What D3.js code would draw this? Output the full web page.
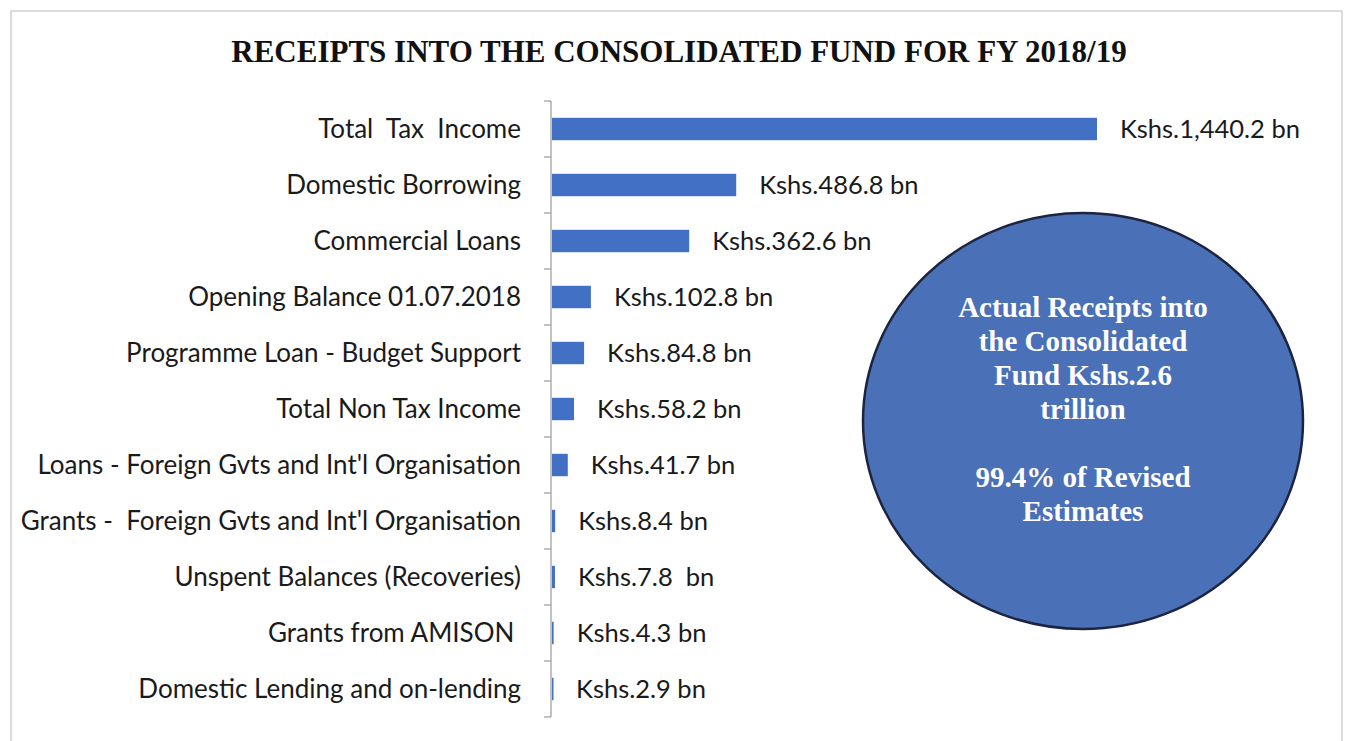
<!DOCTYPE html>
<html>
<head>
<meta charset="utf-8">
<script src="https://cdn.jsdelivr.net/npm/d3@7"></script>
<style>
  body { margin: 0; background: #fff; }
  svg text { white-space: pre; }
</style>
</head>
<body>
<div id="chart"></div>
<script>
// receipts, in Kshs billion, top to bottom
const categories = [
  "Total  Tax  Income",
  "Domestic Borrowing",
  "Commercial Loans",
  "Opening Balance 01.07.2018",
  "Programme Loan - Budget Support",
  "Total Non Tax Income",
  "Loans - Foreign Gvts and Int'l Organisation",
  "Grants -  Foreign Gvts and Int'l Organisation",
  "Unspent Balances (Recoveries)",
  "Grants from AMISON ",
  "Domestic Lending and on-lending"
];
const values = [1440.2, 486.8, 362.6, 102.8, 84.8, 58.2, 41.7, 8.4, 7.8, 4.3, 2.9];
const valueLabels = [
  "Kshs.1,440.2 bn", "Kshs.486.8 bn", "Kshs.362.6 bn", "Kshs.102.8 bn",
  "Kshs.84.8 bn", "Kshs.58.2 bn", "Kshs.41.7 bn", "Kshs.8.4 bn",
  "Kshs.7.8  bn", "Kshs.4.3 bn", "Kshs.2.9 bn"
];
const calloutLines = [
  "Actual Receipts into", "the Consolidated", "Fund Kshs.2.6", "trillion",
  "", "99.4% of Revised", "Estimates"
];
const title = "RECEIPTS INTO THE CONSOLIDATED FUND FOR FY 2018/19";

const W = 1345, H = 741;
const axisX = 551, plotTop = 101, plotBottom = 717;

const svg = d3.select("#chart").append("svg")
  .attr("width", W).attr("height", H);

// page frame
svg.append("rect")
  .attr("x", 11).attr("y", 11).attr("width", 1331).attr("height", 760)
  .attr("fill", "none").attr("stroke", "#b8b8b8").attr("stroke-width", 1);

svg.append("text")
  .attr("x", 679).attr("y", 62)
  .attr("text-anchor", "middle")
  .style("font-family", "'Liberation Serif', 'Times New Roman', serif")
  .style("font-weight", "bold")
  .style("font-size", "31px")
  .attr("fill", "#111")
  .text(title);

const x = d3.scaleLinear()
  .domain([0, 1440.2])
  .range([axisX + 1, 1097]);

const y = d3.scaleBand()
  .domain(categories)
  .range([plotTop, plotBottom])
  .paddingInner(0.6)
  .paddingOuter(0.3);

// axis line and ticks between categories
const yAxis = svg.append("g");
yAxis.append("line")
  .attr("x1", axisX).attr("x2", axisX)
  .attr("y1", plotTop).attr("y2", plotBottom)
  .attr("stroke", "#9a9a9a").attr("stroke-width", 1.2);
yAxis.selectAll("line.tick")
  .data(d3.range(categories.length + 1))
  .join("line")
  .attr("class", "tick")
  .attr("x1", axisX - 7).attr("x2", axisX)
  .attr("y1", i => plotTop + i * y.step())
  .attr("y2", i => plotTop + i * y.step())
  .attr("stroke", "#9a9a9a").attr("stroke-width", 1.2);

// category labels
svg.append("g").selectAll("text")
  .data(categories)
  .join("text")
  .attr("x", 521)
  .attr("y", d => y(d) + y.bandwidth() / 2)
  .attr("dy", "0.35em")
  .attr("text-anchor", "end")
  .style("font-family", "Lato, 'Open Sans', sans-serif")
  .style("font-size", "26px")
  .attr("fill", "#1a1a1a")
  .text(d => d);

// bars
svg.append("g").selectAll("rect")
  .data(values)
  .join("rect")
  .attr("x", x(0))
  .attr("y", (d, i) => y(categories[i]))
  .attr("width", d => Math.max(1.5, x(d) - x(0)))
  .attr("height", y.bandwidth())
  .attr("fill", "#4170c4");

// value labels
svg.append("g").selectAll("text")
  .data(values)
  .join("text")
  .attr("x", d => x(d) + 23)
  .attr("y", (d, i) => y(categories[i]) + y.bandwidth() / 2)
  .attr("dy", "0.35em")
  .style("font-family", "Lato, 'Open Sans', sans-serif")
  .style("font-size", "25.5px")
  .attr("fill", "#1a1a1a")
  .text((d, i) => valueLabels[i]);

// callout ellipse
const cx = 1083, cy = 421;
svg.append("ellipse")
  .attr("cx", cx).attr("cy", cy)
  .attr("rx", 220).attr("ry", 208)
  .attr("fill", "#4a70b8")
  .attr("stroke", "#1c2440").attr("stroke-width", 2.5);

svg.append("g").selectAll("text")
  .data(calloutLines)
  .join("text")
  .attr("x", cx)
  .attr("y", (d, i) => 317 + i * 34)
  .attr("text-anchor", "middle")
  .style("font-family", "'Liberation Serif', 'Times New Roman', serif")
  .style("font-weight", "bold")
  .style("font-size", "29px")
  .attr("fill", "#fff")
  .text(d => d);
</script>
</body>
</html>
